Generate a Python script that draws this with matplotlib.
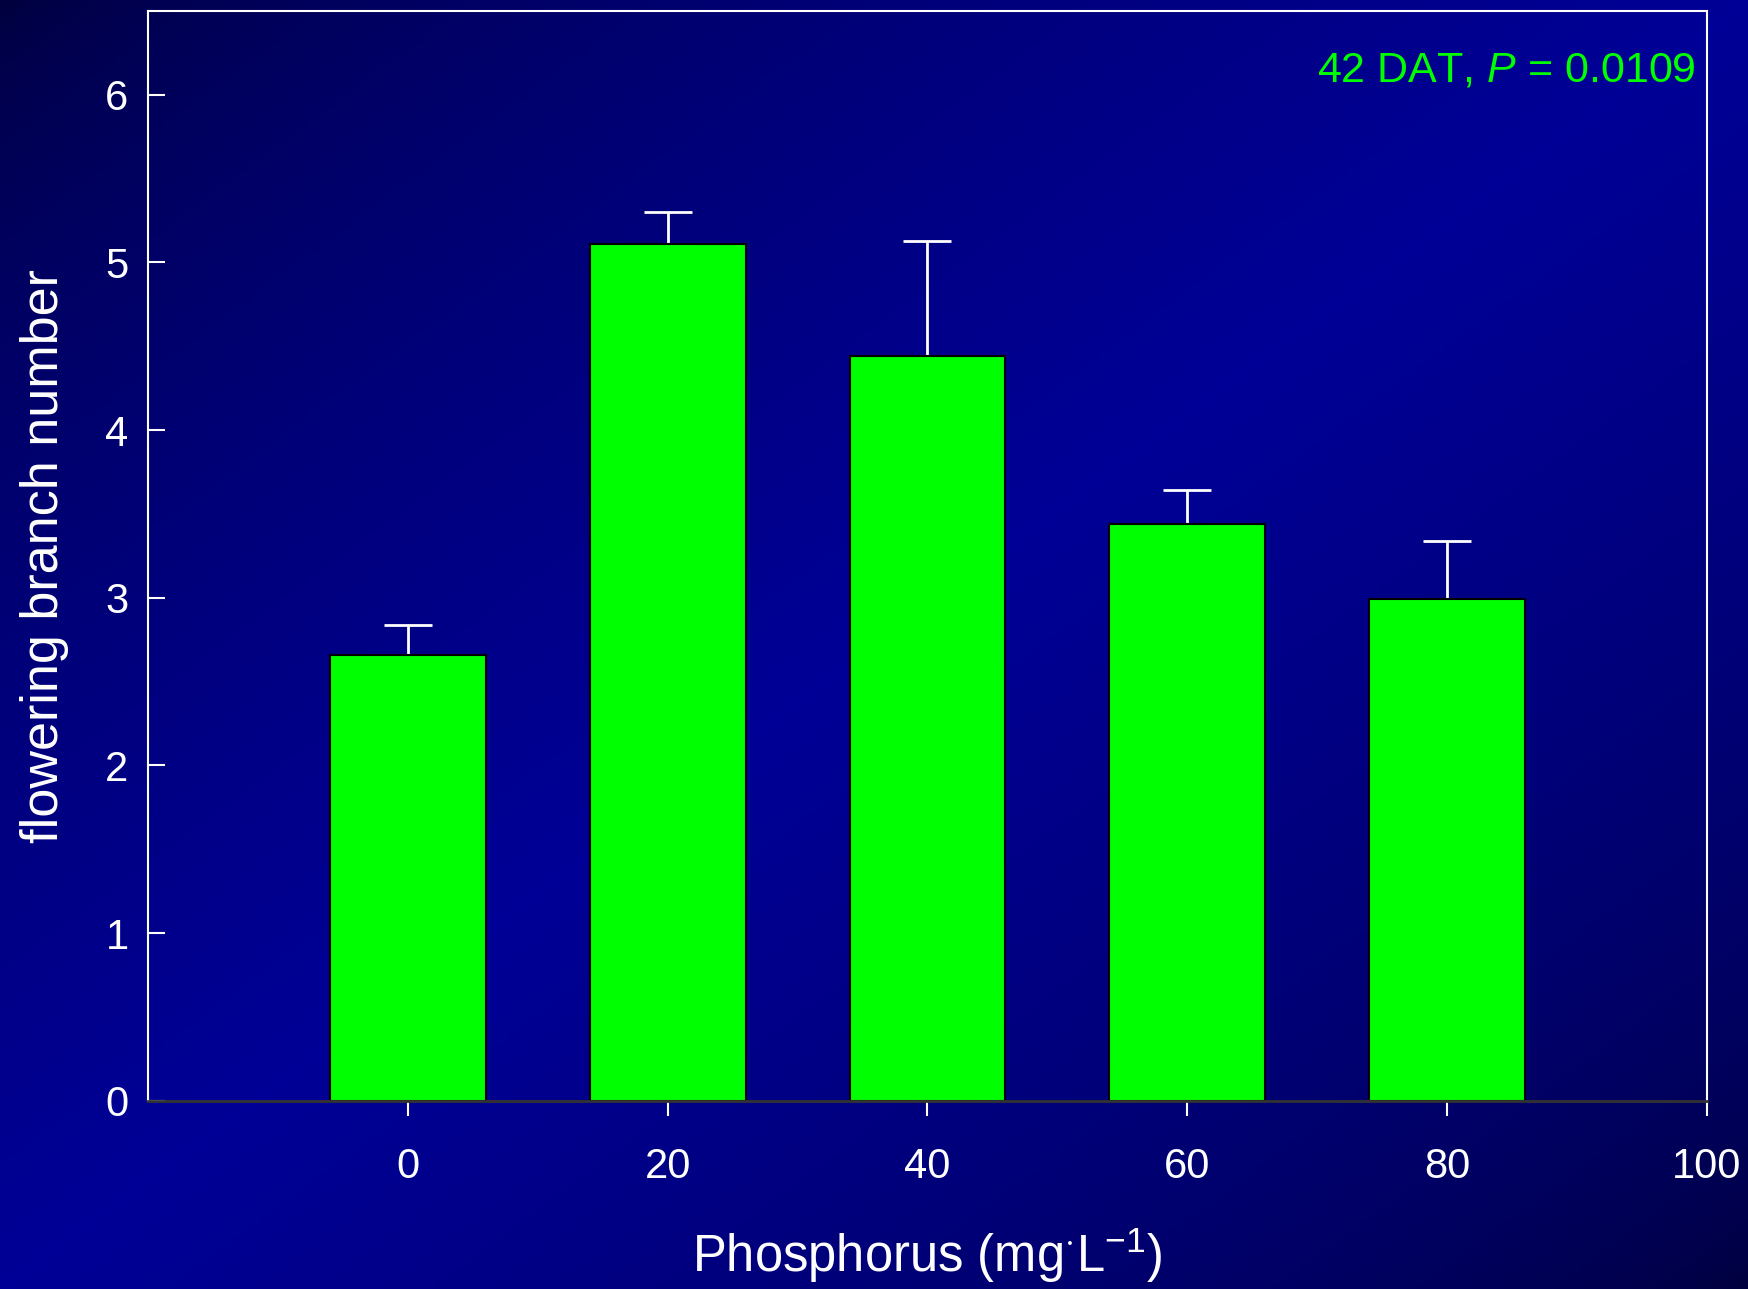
import matplotlib
matplotlib.use('Agg')
import matplotlib.pyplot as plt
from matplotlib.colors import LinearSegmentedColormap
import numpy as np

plt.rcParams['font.family'] = ['Liberation Sans', 'DejaVu Sans']
plt.rcParams['mathtext.fontset'] = 'custom'
plt.rcParams['mathtext.rm'] = 'Liberation Sans'
plt.rcParams['mathtext.it'] = 'Liberation Sans:italic'

# data
phosphorus = [0, 20, 40, 60, 80]
branch_mean = [2.66, 5.11, 4.44, 3.44, 2.99]
branch_se = [0.18, 0.19, 0.69, 0.20, 0.35]
x_ticks = [0, 20, 40, 60, 80, 100]
y_ticks = [0, 1, 2, 3, 4, 5, 6]

fig = plt.figure(figsize=(17.48, 12.89), dpi=100)

# diagonal navy gradient behind everything
bg = fig.add_axes([0, 0, 1, 1])
bg.set_axis_off()
nx, ny = 400, 300
xx, yy = np.meshgrid(np.linspace(0, 1, nx), np.linspace(0, 1, ny))
d = (1 - np.abs(xx + yy - 1)) ** 0.6
cmap = LinearSegmentedColormap.from_list('navy', ['#00003c', '#000096'])
bg.imshow(d, cmap=cmap, aspect='auto', extent=(0, 1, 1, 0), vmin=0, vmax=1)
bg.set_xlim(0, 1)
bg.set_ylim(1, 0)

ax = fig.add_axes([0.0847, 0.146, 0.8918, 0.8455])
ax.patch.set_alpha(0)

ax.bar(phosphorus, branch_mean, width=12, color='#00ff00', edgecolor='black',
       linewidth=1.5, zorder=2)
ax.errorbar(phosphorus, branch_mean, yerr=[np.zeros(len(branch_se)), branch_se],
            fmt='none', ecolor='white', elinewidth=2, capsize=17, capthick=2, zorder=1)

ax.set_xlim(-20, 100)
ax.set_ylim(0, 6.5)
ax.set_xticks(x_ticks)
ax.set_yticks(y_ticks)

for side in ['left', 'top', 'right']:
    ax.spines[side].set_color('white')
    ax.spines[side].set_linewidth(1.5)
ax.spines['bottom'].set_color('#333333')
ax.spines['bottom'].set_linewidth(2)
ax.spines['bottom'].set_zorder(3)

ax.tick_params(axis='y', direction='in', length=12, width=1.5, color='white',
               labelcolor='white', labelsize=30, pad=14)
ax.tick_params(axis='x', direction='out', length=11, width=1.5, color='white',
               labelcolor='white', labelsize=30, pad=22)

ax.set_xlabel(r'Phosphorus (mg$^{\cdot}$L$^{-1}$)', color='white', fontsize=36.5, labelpad=28)
ax.set_ylabel('flowering branch number', color='white', fontsize=37.5, labelpad=26)

ax.text(0.993, 0.945, r'42 DAT, $\it{P}$ = 0.0109', transform=ax.transAxes,
        ha='right', va='center', color='#00ff00', fontsize=31)

fig.savefig('out.png', dpi=100)
